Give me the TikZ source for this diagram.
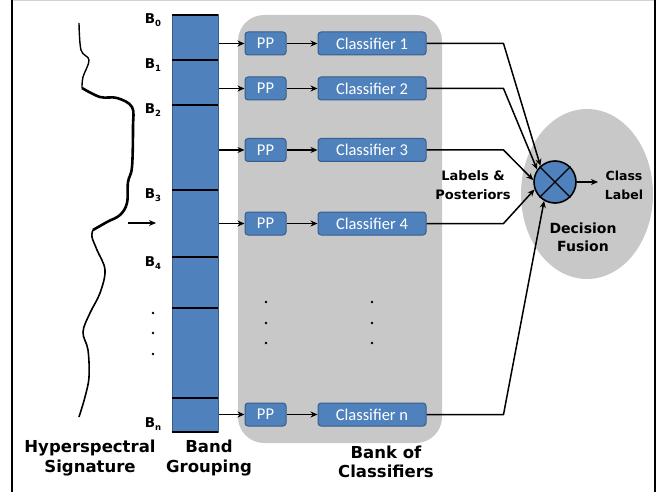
\documentclass[tikz,border=0pt]{standalone}
\usepackage{fontspec}
\setmainfont{DejaVu Sans}
\newfontfamily\calfont{Carlito}
\usepackage{tikz}
\usetikzlibrary{arrows.meta,calc}
\definecolor{boxblue}{RGB}{79,129,189}
\definecolor{boxedge}{RGB}{56,93,138}
\definecolor{bankgray}{RGB}{200,200,200}
\newcommand{\bandlbl}[1]{\textbf{B\raisebox{-0.45ex}{\fontsize{8.5}{8.5}\selectfont #1}}}

\begin{document}
\begin{tikzpicture}[x=1pt,y=-1pt,>=Stealth,line join=round]
  \tikzset{
    pp/.style={draw=boxedge,fill=boxblue,rounded corners=3pt,line width=1pt,
      minimum width=41pt,minimum height=23pt,inner sep=0pt,text=white,
      font=\calfont\fontsize{16.5}{18}\selectfont},
    clf/.style={pp,minimum width=108pt},
    lbl/.style={font=\bfseries\fontsize{16.5}{19.5}\selectfont,align=center},
    flow/.style={-{Stealth[length=7pt,width=6pt]},line width=1.5pt}
  }
  \useasboundingbox (0,0) rectangle (659,492);
  % frame
  \draw[gray!35] (12,0.5) -- (655,0.5);
  \draw[line width=1.3pt] (12,0) -- (12,492);
  \draw[line width=1.3pt] (655,0) -- (655,492);
  % backgrounds
  \fill[bankgray,rounded corners=26pt] (238,15) rectangle (442,443);
  \fill[bankgray] (587,194) ellipse [x radius=66pt,y radius=85pt];
  % signature curve
  \draw[line width=1.4pt] plot[smooth,tension=0.6] coordinates {(79,23) (81,50) (89,60) (83,77) (82,88)};
  \draw[line width=2.6pt] plot[smooth,tension=0.6] coordinates {(82,88) (100,97) (117,98) (132,107) (133,127) (132,167) (128,182) (127,203) (120,215) (107,222) (93,230)};
  \draw[line width=1.6pt] plot[smooth,tension=0.6] coordinates {(93,230) (92,237) (97,250) (105,270) (100,293) (90,313) (83,332) (88,350) (89,377) (85,397) (79,417)};
  \coordinate (inS) at (128,223);
  \coordinate (inE) at (156,223);
  \draw[flow] (inS) -- (inE);
  % band grouping
  \node[draw=boxedge,fill=boxblue,line width=1pt,minimum width=46pt,minimum height=417pt,inner sep=0pt] (band) at (195,223.5) {};
  \foreach \y in {15,60,105,190,257,308,398,432}
    \draw[line width=2pt] (172,\y) -- (218,\y);
  \node[font=\fontsize{13.5}{15}\selectfont] (b0) at (153,20) {\bandlbl{0}};
  \node[font=\fontsize{13.5}{15}\selectfont] (b1) at (153,65) {\bandlbl{1}};
  \node[font=\fontsize{13.5}{15}\selectfont] (b2) at (153,110) {\bandlbl{2}};
  \node[font=\fontsize{13.5}{15}\selectfont] (b3) at (153,195) {\bandlbl{3}};
  \node[font=\fontsize{13.5}{15}\selectfont] (b4) at (153,263) {\bandlbl{4}};
  \node[font=\fontsize{13.5}{15}\selectfont] (bn) at (153,424) {\bandlbl{n}};
  \foreach \y in {313,333,354}
    \fill (153,\y) circle (1.3pt);
  % bank of classifiers
  \node[pp] (pp1) at (265.5,43.5) {PP};
  \node[pp] (pp2) at (265.5,88.5) {PP};
  \node[pp] (pp3) at (265.5,150) {PP};
  \node[pp] (pp4) at (265.5,223.5) {PP};
  \node[pp] (ppn) at (265.5,414.5) {PP};
  \node[clf] (cl1) at (372,43.5) {Classifier 1};
  \node[clf] (cl2) at (372,88.5) {Classifier 2};
  \node[clf] (cl3) at (372,150) {Classifier 3};
  \node[clf] (cl4) at (372,223.5) {Classifier 4};
  \node[clf] (cln) at (372,414.5) {Classifier n};
  \foreach \p in {pp1,pp2,pp3,pp4,ppn}
    \draw[flow] (band.east |- \p) -- (\p);
  \draw[flow] (pp1) -- (cl1);
  \draw[flow] (pp2) -- (cl2);
  \draw[flow] (pp3) -- (cl3);
  \draw[flow] (pp4) -- (cl4);
  \draw[flow] (ppn) -- (cln);
  \foreach \y in {302,323,343} {
    \fill (266,\y) circle (1.3pt);
    \fill (372,\y) circle (1.3pt);
  }
  % decision fusion
  \node[circle,draw,fill=boxblue,line width=1.6pt,minimum size=42pt,inner sep=0pt] (fuse) at (555,182) {};
  \draw[line width=1.4pt] (fuse.45) -- (fuse.225);
  \draw[line width=1.4pt] (fuse.135) -- (fuse.315);
  \draw[flow] (cl1.east) -- ++(77,0) -- (fuse.132);
  \draw[flow] (cl2.east) -- ++(77,0) -- (fuse.145);
  \draw[flow] (cl3.east) -- ++(77,0) -- (fuse.175);
  \draw[flow] (cl4.east) -- ++(77,0) -- (fuse.200);
  \draw[flow] (cln.east) -- ++(77,0) -- (fuse.240);
  \coordinate (outE) at (598,182);
  \draw[flow] (fuse.east) -- (outE);
  \node[font=\bfseries\fontsize{12.5}{19}\selectfont,align=center] (cls) at (624,185) {Class\\Label};
  \node[font=\bfseries\fontsize{13}{19}\selectfont,align=center] (lp) at (473,185) {Labels \&\\Posteriors};
  \node[font=\bfseries\fontsize{14}{18}\selectfont,align=center] (df) at (583,237) {Decision\\Fusion};
  % captions
  \node[lbl] (hs) at (90,458) {Hyperspectral\\Signature};
  \node[lbl] (bg) at (209,458) {Band\\Grouping};
  \node[lbl] (bc) at (386,462) {Bank of\\Classifiers};
\end{tikzpicture}
\end{document}
